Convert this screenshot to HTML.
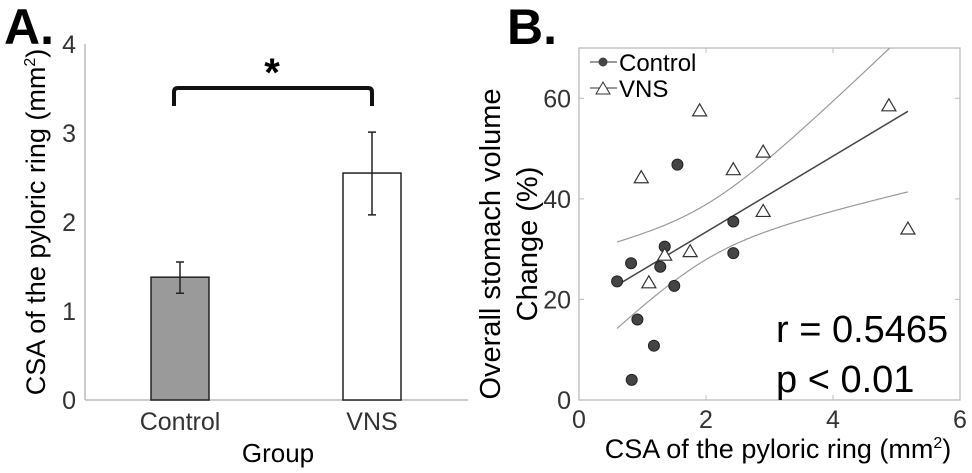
<!DOCTYPE html>
<html><head><meta charset="utf-8"><style>
body{margin:0;background:#fff;}
svg{display:block;font-family:"Liberation Sans",sans-serif;}
</style></head><body>
<svg id="fig" width="972" height="473" viewBox="0 0 972 473">
<text x="4" y="44" font-size="50" font-weight="bold">A.</text>
<text x="507" y="44" font-size="50" font-weight="bold">B.</text>
<g id="pa"></g>
<g id="pb"></g>
</svg>
<script>
const barCats=["Control","VNS"];
const barVals=[1.38,2.55];
const barErrLo=[1.2,2.08];
const barErrHi=[1.55,3.01];
const barTicks=[0,1,2,3,4];
const ctrlX=[0.6,0.82,0.92,0.83,1.18,1.28,1.35,1.5,1.55,2.43,2.43];
const ctrlY=[23.6,27.2,16,4,10.8,26.5,30.5,22.7,46.8,35.5,29.2];
const vnsX=[0.98,1.1,1.35,1.75,1.9,2.43,2.9,2.9,4.88,5.18];
const vnsY=[44.2,23.3,28.8,29.5,57.5,45.8,49.3,37.5,58.5,34];
const fitLine=[18.3,7.55]; // intercept, slope
const ciParams=[2.0,30,22.4]; // center, A, B
const sxTicks=[0,2,4,6];
const syTicks=[0,20,40,60];
const NS="http://www.w3.org/2000/svg";
function mk(p,t,a,txt){const e=document.createElementNS(NS,t);for(const k in a)e.setAttribute(k,a[k]);if(txt!=null)e.textContent=txt;p.appendChild(e);return e;}
// Panel A
const pa=document.getElementById('pa');
const ay=v=>400-v*89, axc=[180,372];
mk(pa,'line',{x1:85,y1:400,x2:468,y2:400,stroke:'#bbb','stroke-width':1.5});
mk(pa,'line',{x1:85,y1:44,x2:85,y2:400,stroke:'#bbb','stroke-width':1.5});
barTicks.forEach(t=>{const e=mk(pa,'text',{x:76,y:ay(t)+9,'font-size':25,fill:'#333','text-anchor':'end'},t);

});
barCats.forEach((c,i)=>{
 const b=mk(pa,'rect',{x:axc[i]-29,y:ay(barVals[i]),width:58,height:ay(0)-ay(barVals[i]),fill:i?'#fff':'#9a9a9a',stroke:'#222','stroke-width':1.5});
 
 
 const g=mk(pa,'path',{d:`M${axc[i]},${ay(barErrLo[i])}V${ay(barErrHi[i])}M${axc[i]-4},${ay(barErrLo[i])}h8M${axc[i]-4},${ay(barErrHi[i])}h8`,stroke:'#222','stroke-width':1.5,fill:'none'});
 
 
 const l=mk(pa,'text',{x:axc[i],y:430,'font-size':25,fill:'#333','text-anchor':'middle'},c);
 
 
});
const br=mk(pa,'path',{d:'M174,106V92Q174,88 178,88H368Q372,88 372,92V106',stroke:'#111','stroke-width':4,fill:'none'});

const st=mk(pa,'text',{x:272,y:86,'font-size':40,'font-weight':'bold','text-anchor':'middle'},'*');

const xa=mk(pa,'text',{x:278,y:462,'font-size':26,'text-anchor':'middle'},'Group');

const ya=mk(pa,'text',{transform:'translate(45,222) rotate(-90)','font-size':27,'text-anchor':'middle'});

ya.innerHTML='CSA of the pyloric ring (mm<tspan font-size="16" dy="-10">2</tspan><tspan dy="10">)</tspan>';
// Panel B
const pb=document.getElementById('pb');
const L=579,R=960,T=48,B=400;
const sx=v=>L+v/6*(R-L), sy=v=>B-v/70*(B-T);
mk(pb,'rect',{x:L,y:T,width:R-L,height:B-T,fill:'none',stroke:'#bbb','stroke-width':1.3});
sxTicks.forEach(t=>{mk(pb,'path',{d:`M${sx(t)},${B}v-5M${sx(t)},${T}v5`,stroke:'#bbb'});
 const e=mk(pb,'text',{x:sx(t),y:428,'font-size':25,fill:'#333','text-anchor':'middle'},t);
 });
syTicks.forEach(t=>{mk(pb,'path',{d:`M${L},${sy(t)}h5M${R},${sy(t)}h-5`,stroke:'#bbb'});
 const e=mk(pb,'text',{x:571,y:sy(t)+9,'font-size':25,fill:'#333','text-anchor':'end'},t);
 });
const cp=mk(pb,'clipPath',{id:'cb'});mk(cp,'rect',{x:L,y:T,width:R-L,height:B-T});
let up='',lo='';
for(let x=0.6;x<=5.181;x+=0.02){const y=fitLine[0]+fitLine[1]*x;const w=Math.sqrt(ciParams[1]+ciParams[2]*(x-ciParams[0])**2);
 up+=(up?'L':'M')+sx(x).toFixed(1)+','+sy(y+w).toFixed(1);lo+=(lo?'L':'M')+sx(x).toFixed(1)+','+sy(y-w).toFixed(1);}
const u=mk(pb,'path',{d:up,stroke:'#999',fill:'none','clip-path':'url(#cb)','stroke-width':1.2});

const lw=mk(pb,'path',{d:lo,stroke:'#999',fill:'none','stroke-width':1.2});

const fit=mk(pb,'line',{x1:sx(0.6),y1:sy(fitLine[0]+fitLine[1]*0.6),x2:sx(5.18),y2:sy(fitLine[0]+fitLine[1]*5.18),stroke:'#444','stroke-width':1.5});

ctrlX.forEach((x,i)=>{const c=mk(pb,'circle',{cx:sx(x),cy:sy(ctrlY[i]),r:5.5,fill:'#444',stroke:'#222'});
 });
const tri=(x,y)=>`M${x},${y-7}L${x+7},${y+5}L${x-7},${y+5}Z`;
vnsX.forEach((x,i)=>{const c=mk(pb,'path',{d:tri(sx(x),sy(vnsY[i])),fill:'#fff',stroke:'#333','stroke-width':1.2});
 });
const lg=mk(pb,'g',{});
mk(lg,'line',{x1:590,y1:62,x2:617,y2:62,stroke:'#333'});mk(lg,'circle',{cx:603,cy:62,r:4.5,fill:'#444'});
mk(lg,'text',{x:619,y:71,'font-size':24},'Control');
mk(lg,'line',{x1:590,y1:88,x2:617,y2:88,stroke:'#333'});mk(lg,'path',{d:tri(603,89),fill:'#fff',stroke:'#333'});
mk(lg,'text',{x:619,y:97,'font-size':24},'VNS');
const r1=mk(pb,'text',{x:776,y:342,'font-size':38},'r = 0.5465');

const p1=mk(pb,'text',{x:776,y:392,'font-size':38},'p < 0.01');

const bx=mk(pb,'text',{x:778,y:458,'font-size':27,'text-anchor':'middle'});

bx.innerHTML='CSA of the pyloric ring (mm<tspan font-size="16" dy="-10">2</tspan><tspan dy="10">)</tspan>';
const by1=mk(pb,'text',{transform:'translate(500,244) rotate(-90)','font-size':29,'text-anchor':'middle'},'Overall stomach volume');

const by2=mk(pb,'text',{transform:'translate(537,244) rotate(-90)','font-size':29,'text-anchor':'middle'},'Change (%)');

</script>
</body></html>
